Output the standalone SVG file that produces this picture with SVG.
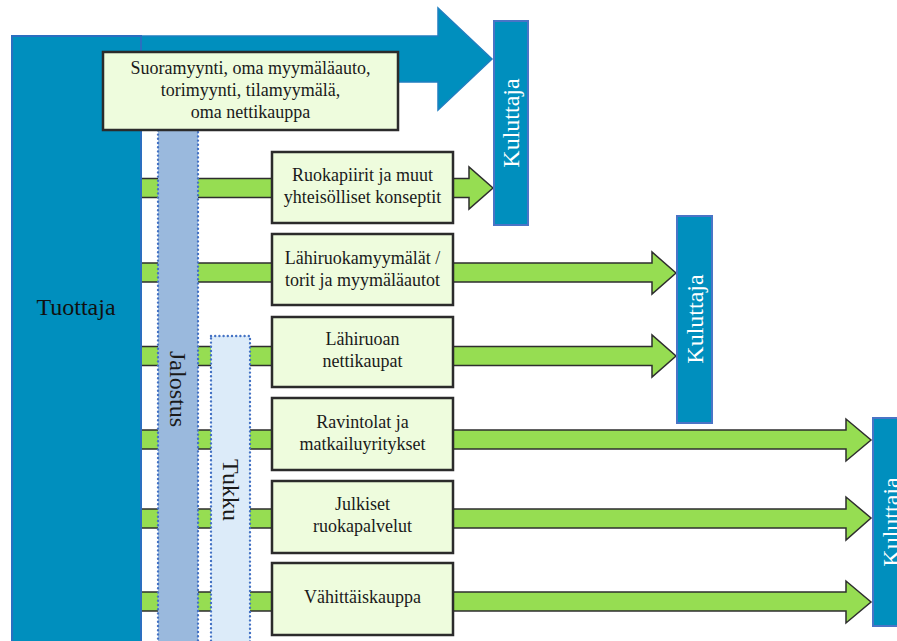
<svg xmlns="http://www.w3.org/2000/svg" width="897" height="641" viewBox="0 0 897 641">
<style>
.box{fill:#eefcdd;stroke:#2b2b2b;stroke-width:2.5}
.lbl{font-family:'Liberation Serif','DejaVu Serif',serif;font-size:18px;fill:#1a1a1a;text-anchor:middle}
.big{font-family:'Liberation Serif','DejaVu Serif',serif;font-size:24px;text-anchor:middle;dominant-baseline:central}
.green{fill:#96dd52;stroke:#2e2e2e;stroke-width:1.5;stroke-linejoin:miter}
.kul{fill:#008fbe;stroke:#4a74c6;stroke-width:2}
.dot{stroke:#4472c4;stroke-width:2.4;stroke-dasharray:0 4.2;stroke-linecap:round}
</style>
<rect width="897" height="641" fill="#ffffff"/>
<g id="connectors">
<polygon id="arrow-main" points="141,36 438,36 438,8 492,59 438,110 438,82 141,82" fill="#008fbe" stroke="#1f7fc0" stroke-width="1.5"/>
<polygon class="green" points="141,178.5 469,178.5 469,167 493,188 469,209 469,197.5 141,197.5"/>
<polygon class="green" points="141,263 652,263 652,252 676,273 652,294 652,282 141,282"/>
<polygon class="green" points="141,346.5 652,346.5 652,335 676,356 652,377 652,365.5 141,365.5"/>
<polygon class="green" points="141,430 846,430 846,419 871,440 846,461 846,449 141,449"/>
<polygon class="green" points="141,509 846,509 846,497 871,518 846,540 846,528 141,528"/>
<polygon class="green" points="141,592 846,592 846,581 871,602 846,623 846,611 141,611"/>
</g>
<g id="tuottaja">
<rect x="12" y="36" width="129" height="615" fill="#008fbe" stroke="#2a6fc0" stroke-width="2"/>
<text class="big" font-family="Liberation Serif, serif" x="76" y="307" fill="#111">Tuottaja</text>
</g>
<g id="jalostus">
<rect x="158" y="126" width="40" height="525" fill="#9ab9dd" class="dot"/>
<text class="big" font-family="Liberation Serif, serif" transform="translate(178,389) rotate(90)" fill="#1a1a1a">Jalostus</text>
</g>
<g id="tukku">
<rect x="211" y="336" width="39" height="315" fill="#dcebf9" class="dot"/>
<text class="big" font-family="Liberation Serif, serif" transform="translate(231,490) rotate(90)" fill="#1a1a1a">Tukku</text>
</g>
<g id="box-suoramyynti" font-family="Liberation Serif, serif">
<rect class="box" x="103" y="52" width="295" height="78"/>
<text class="lbl" x="250.5" y="74">Suoramyynti, oma myymäläauto,</text>
<text class="lbl" x="250.5" y="96">torimyynti, tilamyymälä,</text>
<text class="lbl" x="250.5" y="118">oma nettikauppa</text>
</g>
<g id="box-ruokapiirit">
<rect class="box" x="272" y="152" width="181" height="71"/>
<text class="lbl" x="362.5" y="181">Ruokapiirit ja muut</text>
<text class="lbl" x="362.5" y="203">yhteisölliset konseptit</text>
</g>
<g id="box-lahiruokamyymalat">
<rect class="box" x="272" y="234" width="181" height="71"/>
<text class="lbl" x="362.5" y="263.5">Lähiruokamyymälät /</text>
<text class="lbl" x="362.5" y="285.5">torit ja myymäläautot</text>
</g>
<g id="box-nettikaupat">
<rect class="box" x="272" y="317" width="181" height="70"/>
<text class="lbl" x="362.5" y="345">Lähiruoan</text>
<text class="lbl" x="362.5" y="367">nettikaupat</text>
</g>
<g id="box-ravintolat">
<rect class="box" x="272" y="398" width="181" height="72"/>
<text class="lbl" x="362.5" y="428">Ravintolat ja</text>
<text class="lbl" x="362.5" y="450">matkailuyritykset</text>
</g>
<g id="box-julkiset">
<rect class="box" x="272" y="481" width="181" height="72"/>
<text class="lbl" x="362.5" y="510">Julkiset</text>
<text class="lbl" x="362.5" y="532">ruokapalvelut</text>
</g>
<g id="box-vahittaiskauppa">
<rect class="box" x="272" y="563" width="181" height="72"/>
<text class="lbl" x="362.5" y="603">Vähittäiskauppa</text>
</g>
<g id="kuluttaja-1">
<rect class="kul" x="494" y="21" width="34" height="204"/>
<text class="big" transform="translate(511,123) rotate(-90)" fill="#ffffff">Kuluttaja</text>
</g>
<g id="kuluttaja-2">
<rect class="kul" x="677" y="216" width="35" height="207"/>
<text class="big" transform="translate(694.5,319) rotate(-90)" fill="#ffffff">Kuluttaja</text>
</g>
<g id="kuluttaja-3">
<rect class="kul" x="873" y="418" width="36" height="208"/>
<text class="big" transform="translate(891,522) rotate(-90)" fill="#ffffff">Kuluttaja</text>
</g>
</svg>
